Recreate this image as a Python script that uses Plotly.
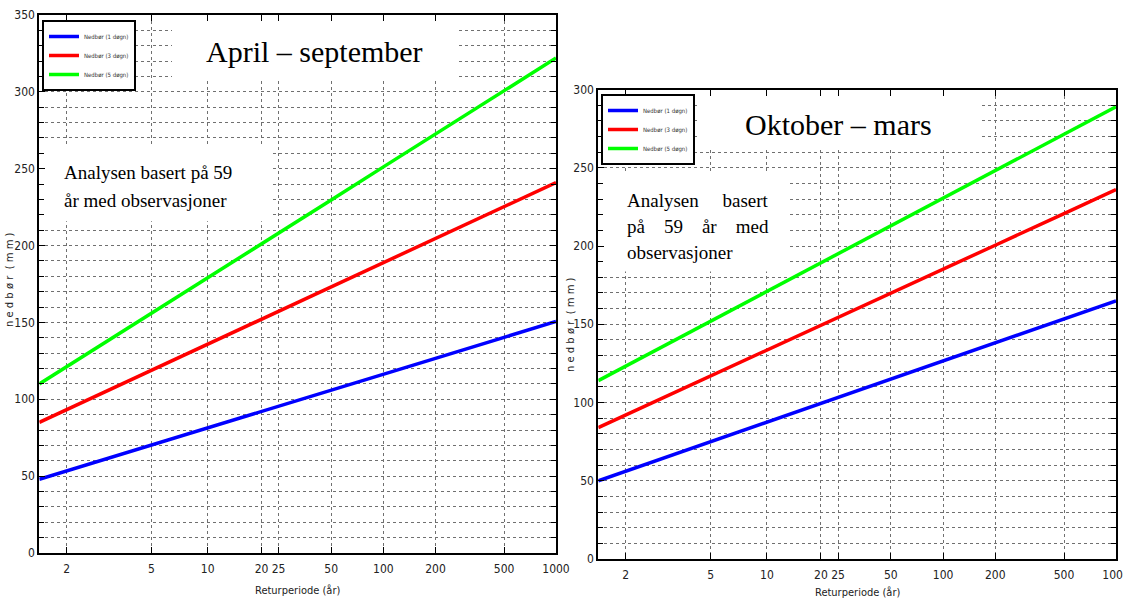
import numpy as np
import plotly.graph_objects as go

# ---------------- data ----------------
return_periods = [1.582, 2, 5, 10, 20, 25, 50, 100, 200, 500, 1000]
tick_periods = [2, 5, 10, 20, 25, 50, 100, 200, 500, 1000]
tick_labels = ["2", "5", "10", "20", "25", "50", "100", "200", "500", "1000"]

series_names = ["Nedbør (1 døgn)", "Nedbør (3 døgn)", "Nedbør (5 døgn)"]
series_colors = ["#0000ff", "#ff0000", "#00ff00"]

# April - september
as_1d = [48.0, 53.4, 70.3, 81.4, 92.1, 95.5, 106.0, 116.3, 126.6, 140.3, 150.6]
as_3d = [85.0, 93.3, 118.9, 135.8, 152.1, 157.2, 173.1, 188.9, 204.6, 225.3, 241.0]
as_5d = [110.0, 121.2, 156.0, 179.1, 201.2, 208.2, 229.7, 251.2, 272.5, 300.7, 322.0]

# Oktober - mars
om_1d = [50.0, 56.1, 75.0, 87.5, 99.5, 103.3, 115.0, 126.6, 138.2, 153.5, 165.0]
om_3d = [84.0, 92.1, 117.0, 133.5, 149.3, 154.4, 169.8, 185.2, 200.5, 220.7, 236.0]
om_5d = [114.0, 123.3, 152.0, 171.0, 189.3, 195.0, 212.9, 230.6, 248.2, 271.5, 289.0]


def gumbel(T):
    T = np.asarray(T, dtype=float)
    return -np.log(-np.log(1.0 - 1.0 / T))


xv = gumbel(return_periods)
xt = gumbel(tick_periods)
xmax = float(gumbel([1000])[0])

W, H = 1123, 599
fig = go.Figure()

panels = [
    dict(data=[as_1d, as_3d, as_5d], xa="x", ya="y", legend="legend"),
    dict(data=[om_1d, om_3d, om_5d], xa="x2", ya="y2", legend="legend2"),
]
for p in panels:
    for name, col, vals in zip(series_names, series_colors, p["data"]):
        fig.add_trace(go.Scatter(x=xv, y=vals, mode="lines", name=name,
                                 line=dict(color=col, width=3.5),
                                 xaxis=p["xa"], yaxis=p["ya"],
                                 legend=p["legend"]))

cond = "Liberation Sans Narrow, DejaVu Sans Condensed, Liberation Sans, sans-serif"
serif = "Liberation Serif, Times New Roman, serif"
GRID = "#707070"


def xaxis(domain):
    return dict(domain=domain, range=[0, xmax], tickmode="array", tickvals=xt,
                ticktext=tick_labels, ticks="inside", ticklen=6, tickwidth=1,
                tickcolor="black", showline=True, linecolor="black", linewidth=2,
                mirror="ticks", showgrid=True, gridcolor=GRID, griddash="dot",
                gridwidth=1, zeroline=False, automargin=False,
                ticklabelstandoff=4, ticklabeloverflow="allow",
                tickfont=dict(family=cond, size=12, color="#222"))


def yaxis(domain, ymax):
    return dict(domain=domain, range=[0, ymax], dtick=50, tick0=0,
                ticks="inside", ticklen=6, tickwidth=1, tickcolor="black",
                showline=True, linecolor="black", linewidth=2, mirror="ticks",
                showgrid=True, gridcolor=GRID, griddash="dot", gridwidth=1,
                zeroline=False, automargin=False, ticklabeloverflow="allow",
                tickfont=dict(family=cond, size=12, color="#222"),
                minor=dict(dtick=10, tick0=0, ticks="inside", ticklen=5,
                           tickcolor="black", showgrid=True, gridcolor=GRID,
                           griddash="dot", gridwidth=1))


fig.update_layout(
    width=W, height=H, margin=dict(l=0, r=0, t=0, b=0, autoexpand=False),
    paper_bgcolor="white", plot_bgcolor="white", showlegend=True,
    xaxis=xaxis([39.3 / W, 556 / W]),
    yaxis=yaxis([1 - 553 / H, 1 - 15 / H], 350),
    xaxis2=dict(xaxis([598.3 / W, 1116 / W]), anchor="y2"),
    yaxis2=dict(yaxis([1 - 559 / H, 1 - 89.5 / H], 300), anchor="x2"),
    legend=dict(x=42 / W, y=1 - 20 / H, xanchor="left", yanchor="top",
                bgcolor="white", bordercolor="black", borderwidth=2,
                font=dict(family=cond, size=6, color="#333"),
                itemwidth=30, tracegroupgap=0),
    legend2=dict(x=601 / W, y=1 - 94 / H, xanchor="left", yanchor="top",
                 bgcolor="white", bordercolor="black", borderwidth=2,
                 font=dict(family=cond, size=6, color="#333"),
                 itemwidth=30, tracegroupgap=0),
)

# white boxes covering the grid
boxes = [
    ("x", "y", 1.774, 5.584, 308, 350),
    ("x", "y", 0, 3.084, 215.8, 264.7),
    ("x2", "y2", 1.317, 5.119, 263, 300),
    ("x2", "y2", 0, 2.557, 183.7, 247.8),
]
for xr, yr, x0, x1, y0, y1 in boxes:
    fig.add_shape(type="rect", xref=xr, yref=yr, x0=x0, x1=x1, y0=y0, y1=y1,
                  fillcolor="white", line=dict(width=0), layer="between")


def a(x, y, text, font, xanchor="center", **kw):
    return dict(x=x / W, y=1 - y / H, xref="paper", yref="paper", text=text,
                showarrow=False, xanchor=xanchor, yanchor="middle", font=font, **kw)


ttl = dict(family=serif, size=30, color="black")
body = dict(family=serif, size=19, color="black")
ann = [
    a(314, 52, "April – september", ttl),
    a(838, 124, "Oktober – mars", ttl),
    a(62, 173, "Analysen basert på 59", body, xanchor="left"),
    a(62, 200, "år med observasjoner", body, xanchor="left"),
]
nb = "\u00a0"
lines_r = ["Analysen" + nb * 5 + "basert",
           "på" + nb * 4 + "59" + nb * 4 + "år" + nb * 4 + "med",
           "observasjoner"]
for i, t in enumerate(lines_r):
    ann.append(a(625, 200 + 26 * i, t, body, xanchor="left"))
ytf = dict(family="DejaVu Sans, sans-serif", size=10, color="#222")
ann.append(a(9, 280, "n e d b ø r  ( m m )", ytf, textangle=-90))
ann.append(a(570, 325, "n e d b ø r  ( m m )", ytf, textangle=-90))
xtf = dict(family=cond, size=11, color="#222")
ann.append(a(297, 590, "Returperiode (år)", xtf))
ann.append(a(857, 592, "Returperiode (år)", xtf))
fig.update_layout(annotations=ann)

fig.write_html("out.html", config={"displayModeBar": False},
               post_script="document.body.style.margin='0';document.body.style.padding='0';")
